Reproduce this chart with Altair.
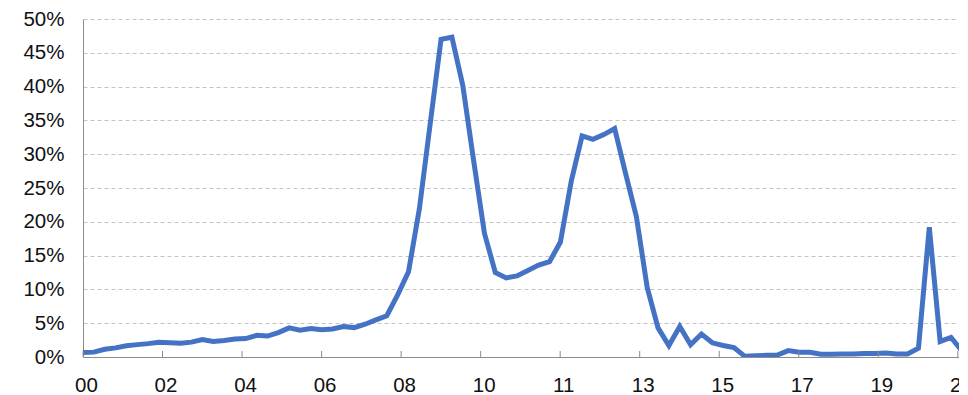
import altair as alt
import pandas as pd

# Series values (percent), one point per period
values = [
    0.65, 0.72, 1.15, 1.35, 1.65, 1.83, 1.98, 2.18, 2.12, 2.05,
    2.20, 2.58, 2.30, 2.45, 2.65, 2.72, 3.20, 3.10, 3.60, 4.30,
    3.95, 4.20, 4.05, 4.15, 4.50, 4.35, 4.85, 5.50, 6.10, 9.20,
    12.6, 21.9, 34.5, 47.0, 47.3, 40.2, 29.1, 18.3, 12.5, 11.7,
    12.0, 12.8, 13.6, 14.1, 17.0, 26.0, 32.7, 32.2, 32.9, 33.8,
    27.2, 20.8, 10.3, 4.3, 1.7, 4.5, 1.8, 3.4, 2.1, 1.7,
    1.4, 0.1, 0.2, 0.25, 0.3, 0.95, 0.7, 0.7, 0.4, 0.4,
    0.45, 0.45, 0.5, 0.5, 0.6, 0.45, 0.45, 1.3, 19.2, 2.3,
    2.9, 0.9,
]

# Category-axis labels shown on the x axis
x_labels = ["00", "02", "04", "06", "08", "10", "11", "13", "15", "17", "19", "21"]

# y-axis tick values (fractions)
y_ticks = [0.0, 0.05, 0.10, 0.15, 0.20, 0.25, 0.30, 0.35, 0.40, 0.45, 0.50]

TICK_STEP = 7.33          # points between labelled ticks
PX_PER_POINT = 10.85
W, H = 876, 338

df = pd.DataFrame({"i": list(range(len(values))), "v": [v / 100 for v in values]})
ticks_df = pd.DataFrame({
    "t": [k * TICK_STEP for k in range(len(x_labels))],
    "label": x_labels,
})

FONT = "Liberation Sans"
FONT_SIZE = 20.5
AXIS_GRAY = "#8c8c8c"
TEXT = "#111111"

xscale = alt.Scale(domain=[0, W / PX_PER_POINT], nice=False, zero=False)
yscale = alt.Scale(domain=[0, 0.5], nice=False)

x_axis = alt.Axis(
    values=ticks_df["t"].tolist(),
    labels=False,
    title=None,
    grid=False,
    ticks=False,
    tickSize=0,
    domainColor=AXIS_GRAY,
    domainWidth=1,
)
y_axis = alt.Axis(
    values=y_ticks,
    format=".0%",
    title=None,
    ticks=False,
    tickSize=0,
    grid=True,
    gridDash=[4, 3],
    gridColor="#c4c4c4",
    gridWidth=1,
    domainColor=AXIS_GRAY,
    domainWidth=1,
    labelFont=FONT,
    labelFontSize=FONT_SIZE,
    labelColor=TEXT,
    labelPadding=19,
    labelOverlap=False,
)

line = alt.Chart(df).mark_line(color="#4472C4", strokeWidth=5, clip=True).encode(
    x=alt.X("i:Q", scale=xscale, axis=x_axis),
    y=alt.Y("v:Q", scale=yscale, axis=y_axis),
)

tickmarks = alt.Chart(ticks_df).mark_rule(color=AXIS_GRAY, strokeWidth=1).encode(
    x=alt.X("t:Q", scale=xscale, axis=x_axis),
    y=alt.value(H),
    y2=alt.value(H - 6),
)

xlabels = alt.Chart(ticks_df).mark_text(
    font=FONT, fontSize=FONT_SIZE, color=TEXT, baseline="alphabetic", align="center", dx=3.5
).encode(
    x=alt.X("t:Q", scale=xscale, axis=x_axis),
    y=alt.value(H + 35),
    text="label:N",
)

chart = (
    alt.layer(line, tickmarks, xlabels)
    .properties(
        width=W,
        height=H,
        autosize=alt.AutoSizeParams(type="none"),
        padding={"left": 75, "top": 11, "right": 0, "bottom": 40},
    )
    .configure_view(stroke=None)
)

chart.save("out.html", embed_options={"renderer": "svg", "actions": False})
